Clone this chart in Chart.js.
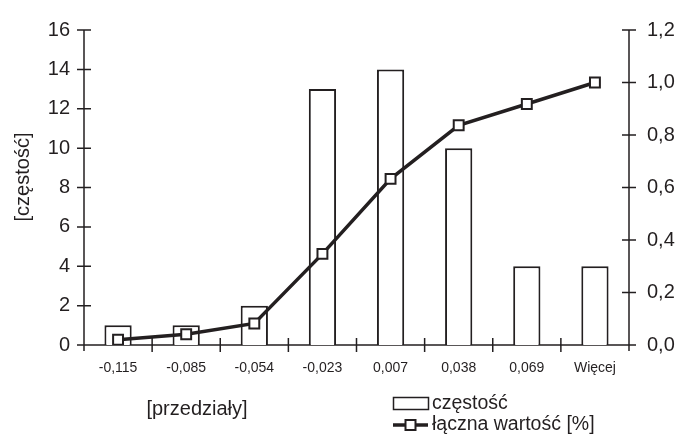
<!DOCTYPE html>
<html><head><meta charset="utf-8">
<style>html,body{margin:0;padding:0;background:#fff}#wrap{width:678px;height:436px}</style>
<script src="https://cdn.jsdelivr.net/npm/chart.js@4/dist/chart.umd.min.js"></script>
</head><body><div id="wrap"><canvas id="c" width="678" height="436"></canvas></div>
<script>
const categories = ['-0,115','-0,085','-0,054','-0,023','0,007','0,038','0,069','Więcej'];
const frequency = [1, 1, 2, 13, 14, 10, 4, 4];
const cumulative = [0.020, 0.041, 0.082, 0.347, 0.633, 0.837, 0.918, 1.000];
const leftTicks = [0, 2, 4, 6, 8, 10, 12, 14, 16];
const rightTicks = ['0,0','0,2','0,4','0,6','0,8','1,0','1,2'];
const seriesNames = ['częstość', 'łączna wartość [%]'];
const yTitle = '[częstość]';
const xTitle = '[przedziały]';

const INK = '#231f20';
const FAMILY = '"Liberation Sans", Arial, sans-serif';

const axesPlugin = {
  id: 'axes',
  beforeDatasetsDraw(chart) {
    const {ctx, chartArea: a, scales: {x, y, y1}} = chart;
    ctx.save();
    ctx.strokeStyle = INK;
    ctx.lineWidth = 1.5;
    ctx.beginPath();
    ctx.moveTo(a.left, a.top); ctx.lineTo(a.left, a.bottom + 6);
    ctx.moveTo(a.right, a.top); ctx.lineTo(a.right, a.bottom + 6);
    ctx.moveTo(a.left - 1, a.bottom); ctx.lineTo(a.right + 1, a.bottom);
    y.ticks.forEach(t => { const p = y.getPixelForValue(t.value); ctx.moveTo(a.left - 7, p); ctx.lineTo(a.left + 7, p); });
    y1.ticks.forEach(t => { const p = y1.getPixelForValue(t.value); ctx.moveTo(a.right - 7, p); ctx.lineTo(a.right + 7, p); });
    for (let i = 1; i < categories.length; i++) {
      const p = x.getPixelForValue(i - 0.5);
      ctx.moveTo(p, a.bottom - 7); ctx.lineTo(p, a.bottom + 7);
    }
    ctx.stroke();
    ctx.restore();
  },
  afterDraw(chart) {
    const {ctx} = chart;
    const lineDs = chart.data.datasets[0];
    const barDs = chart.data.datasets[1];
    ctx.save();
    ctx.fillStyle = INK;
    ctx.font = '20px ' + FAMILY;
    ctx.textAlign = 'center';
    ctx.textBaseline = 'middle';
    ctx.save();
    ctx.translate(23, 177);
    ctx.rotate(-Math.PI / 2);
    ctx.fillText(yTitle, 0, 0);
    ctx.restore();
    ctx.fillText(xTitle, 197, 409);
    // legend
    ctx.font = '19.5px ' + FAMILY;
    ctx.textAlign = 'left';
    ctx.strokeStyle = barDs.borderColor;
    ctx.lineWidth = 1.5;
    ctx.fillStyle = barDs.backgroundColor;
    ctx.fillRect(393.5, 397.5, 35, 12);
    ctx.strokeRect(393.5, 397.5, 35, 12);
    ctx.fillStyle = INK;
    ctx.fillText(seriesNames[0], 432, 404);
    ctx.strokeStyle = lineDs.borderColor;
    ctx.lineWidth = lineDs.borderWidth;
    ctx.beginPath(); ctx.moveTo(393, 425); ctx.lineTo(428, 425); ctx.stroke();
    ctx.lineWidth = lineDs.pointBorderWidth;
    ctx.fillStyle = lineDs.pointBackgroundColor;
    ctx.fillRect(405.5, 420, 10, 10);
    ctx.strokeRect(405.5, 420, 10, 10);
    ctx.fillStyle = INK;
    ctx.fillText(seriesNames[1], 432, 425);
    ctx.restore();
  }
};

new Chart(document.getElementById('c'), {
  type: 'bar',
  data: {
    labels: categories,
    datasets: [
      {type: 'line', label: seriesNames[1], data: cumulative, yAxisID: 'y1',
       borderColor: INK, borderWidth: 3.5, tension: 0,
       pointStyle: 'rect', pointRadius: 7, pointBackgroundColor: '#fff',
       pointBorderColor: INK, pointBorderWidth: 2, order: 1},
      {type: 'bar', label: seriesNames[0], data: frequency, yAxisID: 'y',
       backgroundColor: '#fff', borderColor: INK, borderWidth: 2,
       barPercentage: 0.4, categoryPercentage: 1, order: 2}
    ]
  },
  options: {
    responsive: false, animation: false, devicePixelRatio: 1,
    layout: {padding: {top: 20, left: 0, right: 0, bottom: 0}},
    plugins: {legend: {display: false}, tooltip: {enabled: false}},
    scales: {
      x: {
        grid: {display: false, drawTicks: false}, border: {display: false},
        ticks: {font: {family: FAMILY, size: 14}, color: INK, padding: 15, maxRotation: 0, autoSkip: false},
        afterFit(s) { s.height = 91; }
      },
      y: {
        position: 'left', min: leftTicks[0], max: leftTicks[leftTicks.length - 1],
        grid: {display: false, drawTicks: false}, border: {display: false},
        ticks: {stepSize: leftTicks[1] - leftTicks[0], font: {family: FAMILY, size: 20}, color: INK, padding: 14},
        afterFit(s) { s.width = 84; }
      },
      y1: {
        position: 'right', min: 0, max: 1.2,
        grid: {display: false, drawTicks: false}, border: {display: false},
        ticks: {stepSize: 0.2, font: {family: FAMILY, size: 20}, color: INK, padding: 18,
                callback: (v, i) => rightTicks[i]},
        afterFit(s) { s.width = 49; }
      }
    }
  },
  plugins: [axesPlugin]
});
</script>
</body></html>
